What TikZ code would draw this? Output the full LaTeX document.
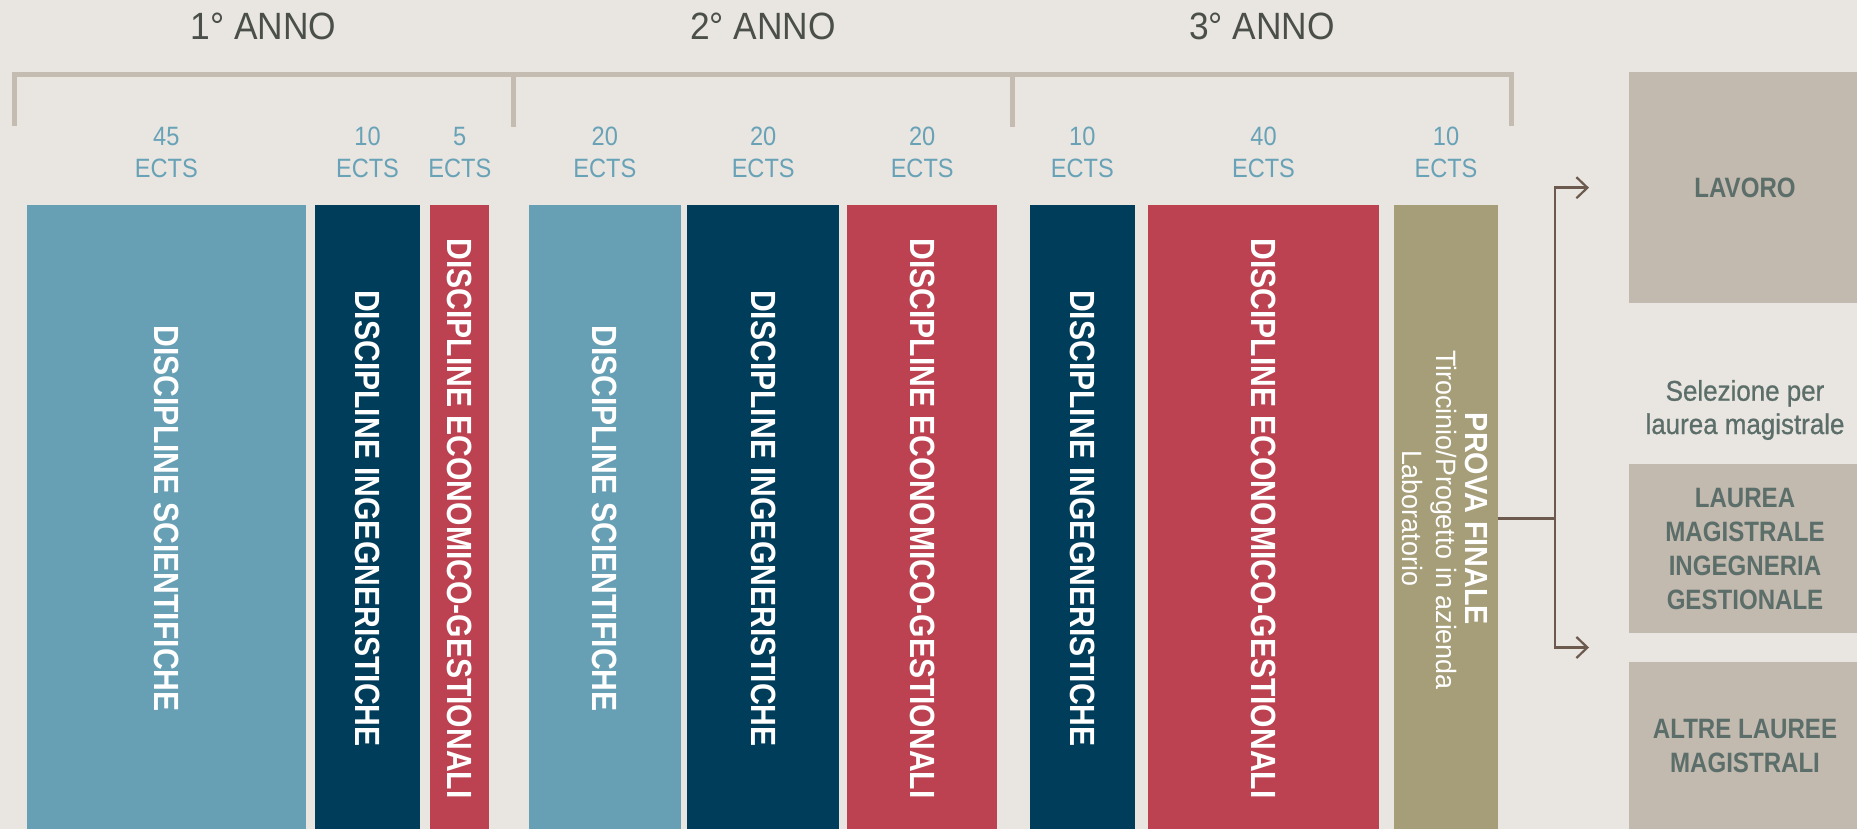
\documentclass[tikz,border=0pt]{standalone}
\usepackage{fontspec}
\setmainfont{Liberation Sans}
\newfontfamily\fcond[FakeStretch=0.86]{Liberation Sans}
\newfontfamily\fpf[FakeStretch=0.90]{Liberation Sans}
\newfontfamily\ftitle[FakeStretch=0.93]{Liberation Sans}
\newfontfamily\fsel[FakeStretch=0.91,FakeBold=0.8]{Liberation Sans}
\newfontfamily\fects[FakeStretch=0.89]{Liberation Sans}
\newfontfamily\freg[FakeStretch=0.96]{Liberation Sans}
\usetikzlibrary{arrows.meta,calc}
\definecolor{bg}{HTML}{E9E5E1}
\definecolor{brk}{HTML}{C4BBB1}
\definecolor{ttl}{HTML}{4A4F4A}
\definecolor{ectsc}{HTML}{68A2B7}
\definecolor{lblue}{HTML}{67A0B4}
\definecolor{navy}{HTML}{003D5B}
\definecolor{redb}{HTML}{BC4251}
\definecolor{olive}{HTML}{A69E79}
\definecolor{greybox}{HTML}{C2B9AF}
\definecolor{boxtxt}{HTML}{5C6E69}
\definecolor{conn}{HTML}{6C5A4E}
\newcommand\ectslab[3]{%
  \node[ectsnum] (n#1) at (#2,145.7) {#3};
  \node[ectstxt] (e#1) at (#2,178) {ECTS};}
\begin{document}
\begin{tikzpicture}[x=1pt,y=-1pt,
  bracketline/.style={draw=brk,line width=5pt,line join=miter},
  yeartitle/.style={anchor=base,inner sep=0,text=ttl,font=\ftitle\fontsize{38}{44}\selectfont},
  ectsnum/.style={anchor=base,inner sep=0,text=ectsc,font=\fects\fontsize{26.5}{30}\selectfont},
  ectstxt/.style={anchor=base,inner sep=0,text=ectsc,font=\fects\fontsize{26.5}{30}\selectfont},
  bar/.style={rotate=-90,minimum width=627,inner sep=0,outer sep=0,text=white,
    font=\fcond\bfseries\fontsize{35}{40}\selectfont},
  pftext/.style={rotate=-90,anchor=base,inner sep=0,text=white},
  gbox/.style={fill=greybox,inner sep=0,outer sep=0,minimum width=232,text=boxtxt,align=center,
    font=\fcond\bfseries\fontsize{28}{34}\selectfont},
  seltext/.style={anchor=base,inner sep=0,text=boxtxt,font=\fsel\fontsize{28.5}{33}\selectfont},
  connline/.style={draw=conn,line width=2.5pt,line join=miter},
  arr/.style={-{Straight Barb[length=11pt,width=21pt,line width=2.2pt]}}
]
\useasboundingbox (0,0) rectangle (1857,829);
\clip (0,0) rectangle (1857,829);
\fill[bg] (0,0) rectangle (1857,829);

% year bracket
\draw[bracketline] (14.5,126.5) -- (14.5,74.8) -- (1511.5,74.8) -- (1511.5,126.5);
\draw[bracketline] (513,74.8) -- (513,127);
\draw[bracketline] (1012.5,74.8) -- (1012.5,127);

% year titles
\node[yeartitle] (y1) at (263.5,39.3) {1° ANNO};
\node[yeartitle] (y2) at (763,39.3) {2° ANNO};
\node[yeartitle] (y3) at (1262,39.3) {3° ANNO};

% ECTS labels
\ectslab{1}{166.3}{45}
\ectslab{2}{367.5}{10}
\ectslab{3}{459.8}{5}
\ectslab{4}{604.8}{20}
\ectslab{5}{763.2}{20}
\ectslab{6}{922.2}{20}
\ectslab{7}{1082.3}{10}
\ectslab{8}{1263.5}{40}
\ectslab{9}{1446}{10}

% bars
\node[bar,fill=lblue,minimum height=278.7] (b1) at (166.3,518.5) {DISCIPLINE SCIENTIFICHE};
\node[bar,fill=navy,minimum height=105] (b2) at (367.5,518.5) {DISCIPLINE INGEGNERISTICHE};
\node[bar,fill=redb,minimum height=59] (b3) at (459.8,518.5) {DISCIPLINE ECONOMICO-GESTIONALI};
\node[bar,fill=lblue,minimum height=151.7] (b4) at (604.8,518.5) {DISCIPLINE SCIENTIFICHE};
\node[bar,fill=navy,minimum height=151.7] (b5) at (763.2,518.5) {DISCIPLINE INGEGNERISTICHE};
\node[bar,fill=redb,minimum height=150.3] (b6) at (922.2,518.5) {DISCIPLINE ECONOMICO-GESTIONALI};
\node[bar,fill=navy,minimum height=104.6] (b7) at (1082.3,518.5) {DISCIPLINE INGEGNERISTICHE};
\node[bar,fill=redb,minimum height=231] (b8) at (1263.5,518.5) {DISCIPLINE ECONOMICO-GESTIONALI};
\node[bar,fill=olive,minimum height=104] (b9) at (1446,518.5) {};

% prova finale texts
\node[pftext,font=\fpf\bfseries\fontsize{32}{36}\selectfont] (pf1) at (1465,519) {PROVA FINALE};
\node[pftext,font=\freg\fontsize{28}{32}\selectfont] (pf2) at (1436,520) {Tirocinio/Progetto in azienda};
\node[pftext,font=\freg\fontsize{28}{32}\selectfont] (pf3) at (1402,518) {Laboratorio};

% right boxes
\node[gbox,minimum height=231] (lavoro) at (1745,187.7) {LAVORO};
\node[gbox,minimum height=169] (lmig) at (1745,548.5) {LAUREA\\MAGISTRALE\\INGEGNERIA\\GESTIONALE};
\node[gbox,minimum height=168] (altre) at (1745,746) {ALTRE LAUREE\\MAGISTRALI};
\node[seltext] (sel1) at (1745,400.7) {Selezione per};
\node[seltext] (sel2) at (1745,434) {laurea magistrale};

% connectors
\coordinate (jn) at (1555,518.5);
\coordinate (t1) at ([xshift=-40pt]lavoro.west);
\coordinate (t2) at ($([xshift=-40pt]lmig.south west)!0.5!([xshift=-40pt]altre.north west)$);
\draw[connline] (b9.north) -- (jn);
\draw[connline,arr] (jn) |- (t1);
\draw[connline,arr] (jn) |- (t2);
\end{tikzpicture}
\end{document}
